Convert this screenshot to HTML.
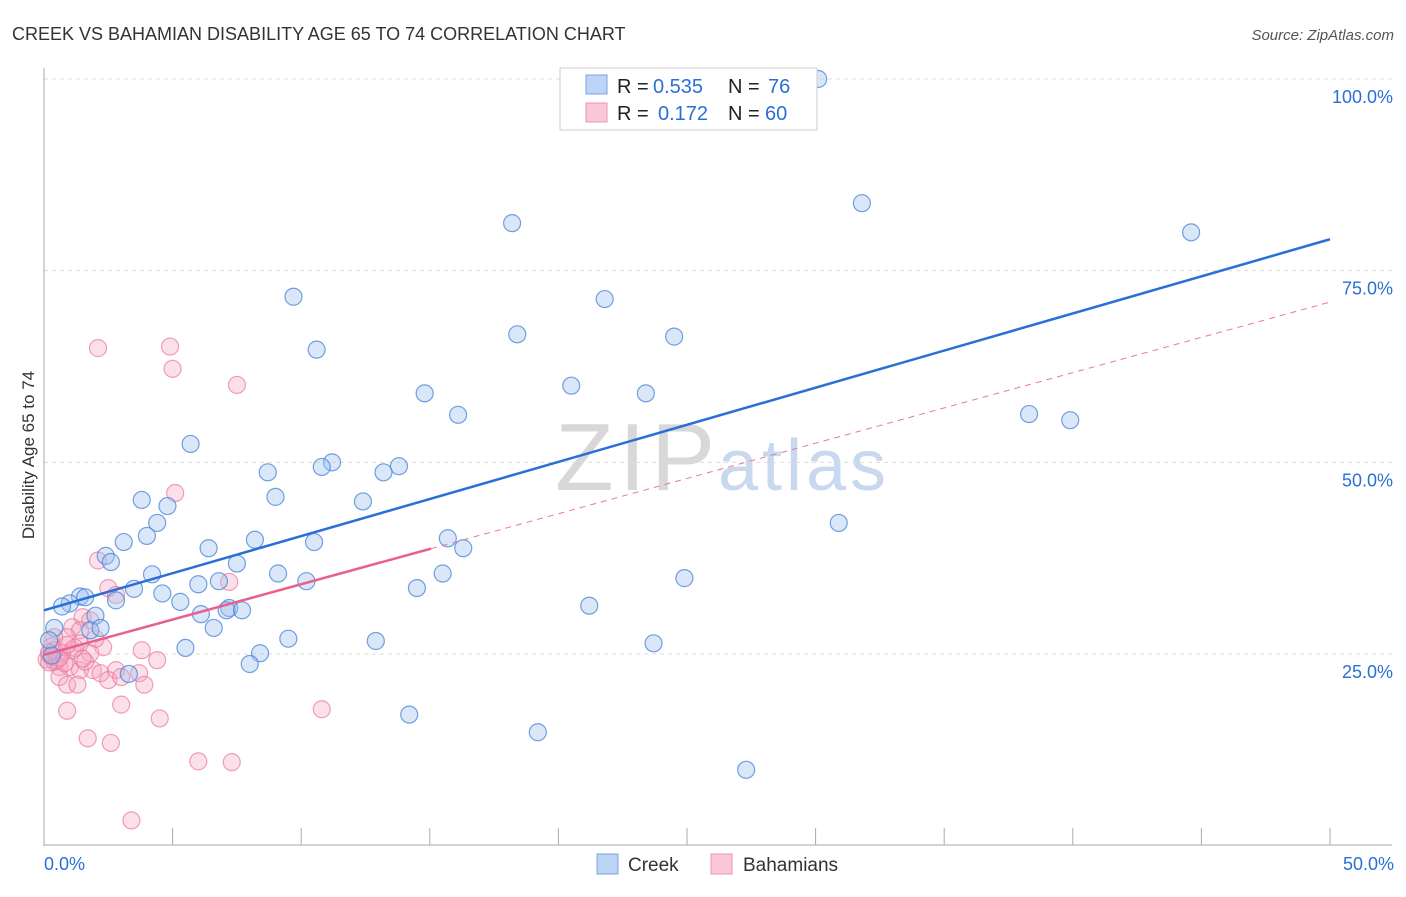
<!DOCTYPE html>
<html><head><meta charset="utf-8"><style>
body{margin:0;background:#fff;font-family:"Liberation Sans",sans-serif;}
svg text{font-family:"Liberation Sans",sans-serif;}
</style></head><body>
<svg id="c" width="1406" height="892">
<text x="12" y="40" font-size="18" fill="#333">CREEK VS BAHAMIAN DISABILITY AGE 65 TO 74 CORRELATION CHART</text>
<text x="1394" y="40" font-size="15" fill="#555" text-anchor="end" font-style="italic">Source: ZipAtlas.com</text>
<text x="34" y="455" font-size="17" fill="#333" text-anchor="middle" transform="rotate(-90 34 455)">Disability Age 65 to 74</text>
<text x="555" y="490" font-size="96" fill="#d8d8d8" font-family="Liberation Serif" textLength="160">ZIP</text>
<text x="718" y="490" font-size="72" fill="#c8d8ef" textLength="168">atlas</text>
<g id="grid"></g><g id="pts"></g><g id="lines"></g>
<g>
<rect x="560" y="68" width="257" height="62" fill="#fff" stroke="#ccc"/>
<rect x="586" y="75" width="21" height="19" fill="#bcd4f5" stroke="#7aa5e0"/>
<text x="617" y="93" font-size="20" fill="#222">R =</text>
<text x="653" y="93" font-size="20" fill="#2a6fd6">0.535</text>
<text x="728" y="93" font-size="20" fill="#222">N =</text>
<text x="768" y="93" font-size="20" fill="#2a6fd6">76</text>
<rect x="586" y="103" width="21" height="19" fill="#f9c8d6" stroke="#eb93ae"/>
<text x="617" y="120" font-size="20" fill="#222">R =</text>
<text x="658" y="120" font-size="20" fill="#2a6fd6">0.172</text>
<text x="728" y="120" font-size="20" fill="#222">N =</text>
<text x="765" y="120" font-size="20" fill="#2a6fd6">60</text>
</g>
<g>
<rect x="597" y="854" width="21" height="20" fill="#bcd4f5" stroke="#7aa5e0"/>
<text x="628" y="871" font-size="19" fill="#333">Creek</text>
<rect x="711" y="854" width="21" height="20" fill="#f9c8d6" stroke="#eb93ae"/>
<text x="743" y="871" font-size="19" fill="#333">Bahamians</text>
</g>
</svg>
<script>
const creekX=[22.9,30.1,18.2,31.8,44.6,9.7,21.8,18.4,24.5,10.6,20.5,14.8,23.4,16.1,38.3,39.9,5.7,11.2,10.8,13.8,13.2,8.7,9.0,3.8,4.8,12.4,30.9,4.4,4.0,15.7,3.1,8.2,10.5,16.3,6.4,2.4,2.6,7.5,4.2,9.1,15.5,24.9,10.2,6.8,6.0,14.5,3.5,4.6,1.4,1.6,2.8,5.3,1.0,0.7,21.2,7.2,7.1,7.7,2.0,6.1,0.4,1.8,2.2,6.6,9.5,12.9,23.7,5.5,8.4,8.0,3.3,14.2,19.2,27.3,0.2,0.3];
const creekY=[100,100,81.2,83.8,80.0,71.6,71.3,66.7,66.4,64.7,60.0,59.0,59.0,56.2,56.3,55.5,52.4,50.0,49.4,49.5,48.7,48.7,45.5,45.1,44.3,44.9,42.1,42.1,40.4,40.1,39.6,39.9,39.6,38.8,38.8,37.8,37.0,36.8,35.4,35.5,35.5,34.9,34.5,34.5,34.1,33.6,33.5,32.9,32.5,32.4,32.0,31.8,31.6,31.2,31.3,31.0,30.7,30.7,30.0,30.2,28.4,28.1,28.4,28.4,27.0,26.7,26.4,25.8,25.1,23.7,22.4,17.1,14.8,9.9,26.8,24.8];
const bahX=[5.1,2.1,4.9,5.0,7.5,7.2,2.1,2.5,2.8,1.5,1.8,1.1,1.4,0.9,0.4,2.3,3.8,4.4,0.3,0.2,0.4,0.1,0.7,1.1,1.4,1.8,0.6,1.0,1.4,1.9,2.2,2.8,2.5,3.7,3.9,0.6,0.9,1.3,3.0,0.9,3.0,4.5,10.8,1.7,2.6,6.0,7.3,3.4,0.5,0.8,1.2,0.3,0.2,0.6,1.6,2.0,0.4,0.9,1.5,0.2];
const bahY=[46.0,64.9,65.1,62.2,60.1,34.4,37.2,33.6,32.7,29.8,29.4,28.5,28.1,27.2,27.2,25.9,25.5,24.2,24.6,24.9,24.0,24.3,25.1,25.5,26.4,25.1,23.3,23.3,22.9,22.9,22.5,22.9,21.6,22.5,21.0,22.0,21.0,21.0,22.0,17.6,18.4,16.6,17.8,14.0,13.4,11.0,10.9,3.3,24.2,23.8,25.8,26.0,23.9,24.5,24.0,27.0,25.5,26.2,24.4,25.2];
const yTicks=[25,50,75,100];
const yTickLabels=["25.0%","50.0%","75.0%","100.0%"];
const xTicks=[0,5,10,15,20,25,30,35,40,45,50];
const blueTrend=[30.7,79.1];
const pinkTrend=[24.9,0.92];
const pinkSolidEnd=15.05;

const X0=44,X1=1330,Y0=845.7,Y100=79;
const xs=v=>X0+(X1-X0)*v/50;
const ys=v=>Y0-(Y0-Y100)*v/100;
const NS="http://www.w3.org/2000/svg";
function mk(t,a,p){const e=document.createElementNS(NS,t);for(const k in a)e.setAttribute(k,a[k]);p.appendChild(e);return e;}
const grid=document.getElementById('grid'),pts=document.getElementById('pts'),lines=document.getElementById('lines');
yTicks.forEach((t,i)=>{
 const l=mk('line',{x1:X0,x2:1392,y1:ys(t),y2:ys(t),stroke:'#ddd','stroke-dasharray':'4,4'},grid);
 
 
 const tx=mk('text',{x:1393,y:ys(t)+24,'font-size':18,fill:'#2a6fd6','text-anchor':'end'},grid);
 tx.textContent=yTickLabels[i];
 
 
});
const ax=mk('line',{x1:X0,x2:X0,y1:68,y2:846,stroke:'#aaa'},grid);


const bx=mk('line',{x1:X0,x2:1392,y1:845,y2:845,stroke:'#aaa'},grid);


xTicks.forEach(t=>{
 const l=mk('line',{x1:xs(t),x2:xs(t),y1:828,y2:845,stroke:'#aaa'},grid);
 
 
});
[[0,'0.0%','start',44],[50,'50.0%','end',1394]].forEach(d=>{
 const t=mk('text',{x:d[3],y:870,'font-size':18,fill:'#2a6fd6','text-anchor':d[2]},grid);
 t.textContent=d[1];
 
 
});
bahX.forEach((x,i)=>{
 const c=mk('circle',{cx:xs(x),cy:ys(bahY[i]),r:8.5,fill:'rgba(246,165,192,0.35)',stroke:'rgba(232,120,158,0.7)','stroke-width':1.2},pts);
 
 
});
creekX.forEach((x,i)=>{
 const c=mk('circle',{cx:xs(x),cy:ys(creekY[i]),r:8.5,fill:'rgba(160,195,240,0.4)',stroke:'rgba(70,130,215,0.75)','stroke-width':1.2},pts);
 
 
});
const bl=mk('line',{x1:xs(0),y1:ys(blueTrend[0]),x2:xs(50),y2:ys(blueTrend[1]),stroke:'#2a6fd6','stroke-width':2.5},lines);


const pd=mk('line',{x1:xs(pinkSolidEnd),y1:ys(pinkTrend[0]+pinkTrend[1]*pinkSolidEnd),x2:xs(50),y2:ys(pinkTrend[0]+pinkTrend[1]*50),stroke:'#e8789e','stroke-width':1,'stroke-dasharray':'6,5'},lines);


const ps=mk('line',{x1:xs(0),y1:ys(pinkTrend[0]),x2:xs(pinkSolidEnd),y2:ys(pinkTrend[0]+pinkTrend[1]*pinkSolidEnd),stroke:'#e8608e','stroke-width':2.5},lines);


</script>
</body></html>
